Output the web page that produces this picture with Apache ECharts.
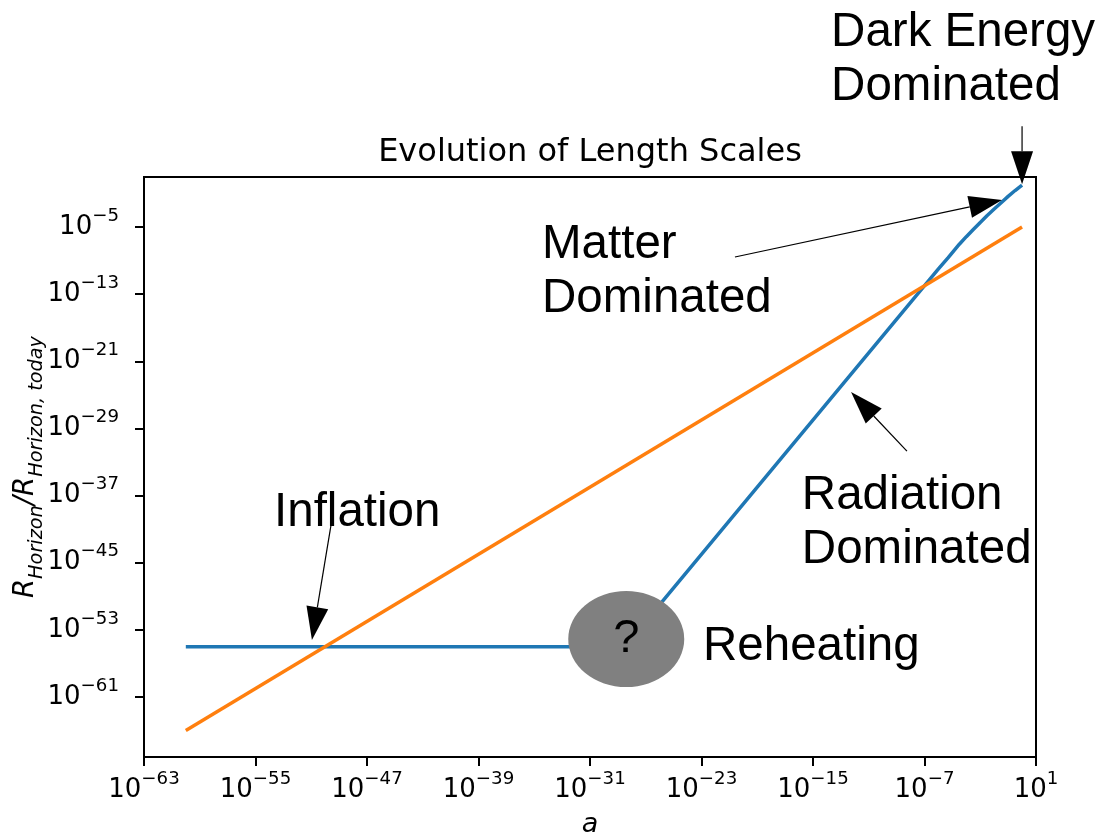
<!DOCTYPE html>
<html>
<head>
<meta charset="utf-8">
<script src="https://cdn.jsdelivr.net/npm/echarts@6/dist/echarts.min.js"></script>
<style>
  html, body { margin: 0; padding: 0; background: #fff; }
  #chart { width: 1101px; height: 838px; }
</style>
</head>
<body>
<div id="chart"></div>
<script>
// Both axes are logarithmic; values are stored as base-10 exponents.
// Horizon radius relative to today, log10 R vs log10 a
const horizonLogA = [-60, -28.5, -6, -5.3, -4.5, -4, -3.5, -3, -2.5, -2, -1.5, -1, -0.5, 0];
const horizonLogR = [-55, -55, -10, -8.65, -7.05, -6.15, -5.3, -4.45, -3.62, -2.85, -2.1, -1.35, -0.65, 0];

// A comoving length scale, growing in proportion to a
const lengthLogA = [-60, 0];
const lengthLogR = [-65, -5];

// Unknown reheating epoch (grey blob)
const reheatLogA = [-28.4];
const reheatLogR = [-54.1];

// Tick exponents
const xTickExps = [-63, -55, -47, -39, -31, -23, -15, -7, 1];
const yTickExps = [-61, -53, -45, -37, -29, -21, -13, -5];

// Axis extents (exponents)
const xRange = [-63, 1];
const yRange = [-68.15, 0.96];

// Annotation labels: text position (top-left), arrow tail and tip, in exponents
const noteTexts = ['Dark Energy\nDominated', 'Matter\nDominated', 'Radiation\nDominated', 'Inflation', 'Reheating'];
const noteTextAt = [[-13.7, 21.35], [-34.44, -3.9], [-15.8, -33.8], [-53.67, -35.82], [-22.89, -51.8]];
const noteTail = [[0, 7], [-20.6, -8.57], [-8.26, -31.7], [-49.58, -40.5], null];
const noteTip = [[0, 0.1], [-1.44, -1.78], [-12.27, -24.66], [-50.95, -54.2], null];

const TICK_FONT = 'DejaVu Sans';
const NOTE_FONT = 'Liberation Sans';

function pow10Label(v) {
  const e = Math.round(v);
  const exp = e < 0 ? '\u2212' + (-e) : String(e);
  return '{b|10}{s|' + exp + '}';
}

const tickRich = {
  b: { fontFamily: TICK_FONT, fontSize: 26, lineHeight: 40, color: '#000' },
  s: { fontFamily: TICK_FONT, fontSize: 18.2, lineHeight: 19.5, verticalAlign: 'top', color: '#000' }
};

const chart = echarts.init(document.getElementById('chart'), null, { renderer: 'canvas' });

const option = {
  animation: false,
  backgroundColor: '#fff',
  grid: {
    left: 144, right: 65, top: 177, bottom: 81,
    show: true, borderColor: '#000', borderWidth: 2, backgroundColor: 'transparent',
    containLabel: false, outerBoundsMode: 'none'
  },
  xAxis: {
    type: 'value',
    min: xRange[0], max: xRange[1],
    name: 'a',
    nameLocation: 'middle',
    nameGap: 52,
    nameMoveOverlap: false,
    nameTextStyle: { fontFamily: TICK_FONT, fontStyle: 'italic', fontSize: 27, lineHeight: 31, color: '#000' },
    axisLine: { show: true, onZero: false, lineStyle: { color: '#000', width: 2 } },
    axisTick: { show: true, inside: false, length: 9, customValues: xTickExps, lineStyle: { color: '#000', width: 2 } },
    axisLabel: { show: true, margin: 13, customValues: xTickExps, formatter: pow10Label, rich: tickRich, hideOverlap: false },
    splitLine: { show: false }
  },
  yAxis: {
    type: 'value',
    min: yRange[0], max: yRange[1],
    name: '{i|R}{s|Horizon}{i|/R}{s|Horizon, today}',
    nameLocation: 'middle',
    nameRotate: 90,
    nameGap: 98,
    nameMoveOverlap: false,
    nameTextStyle: {
      rich: {
        i: { fontFamily: TICK_FONT, fontStyle: 'italic', fontSize: 27.5, lineHeight: 40, color: '#000' },
        s: { fontFamily: TICK_FONT, fontStyle: 'italic', fontSize: 19.3, lineHeight: 24, verticalAlign: 'bottom', color: '#000' }
      }
    },
    axisLine: { show: true, onZero: false, lineStyle: { color: '#000', width: 2 } },
    axisTick: { show: true, inside: false, length: 9, customValues: yTickExps, lineStyle: { color: '#000', width: 2 } },
    axisLabel: { show: true, margin: 25, customValues: yTickExps, formatter: pow10Label, rich: tickRich, hideOverlap: false },
    splitLine: { show: false }
  },
  series: [
    {
      name: 'Horizon',
      type: 'line',
      data: horizonLogA.map((a, i) => [a, horizonLogR[i]]),
      showSymbol: false,
      symbol: 'none',
      lineStyle: { color: '#1f77b4', width: 3.5 },
      z: 2
    },
    {
      name: 'Length scale',
      type: 'line',
      data: lengthLogA.map((a, i) => [a, lengthLogR[i]]),
      showSymbol: false,
      symbol: 'none',
      lineStyle: { color: '#ff7f0e', width: 3.5 },
      z: 3
    },
    {
      name: 'Reheating',
      type: 'scatter',
      data: reheatLogA.map((a, i) => [a, reheatLogR[i]]),
      symbol: 'path://M0,50A50,50,0,1,1,100,50A50,50,0,1,1,0,50Z',
      symbolKeepAspect: false,
      symbolSize: [116, 96],
      itemStyle: { color: '#808080', opacity: 1 },
      label: {
        show: true, position: 'inside', formatter: '?',
        fontFamily: NOTE_FONT, fontSize: 47, color: '#000'
      },
      emphasis: { disabled: true },
      z: 4
    }
  ]
};

chart.setOption(option);

// Title, annotations and arrows placed through the grid's coordinate system
function toPx(p) {
  return chart.convertToPixel({ gridIndex: 0 }, p);
}

function arrow(tailData, tipData) {
  const t0 = toPx(tailData), t1 = toPx(tipData);
  const dx = t1[0] - t0[0], dy = t1[1] - t0[1];
  const len = Math.hypot(dx, dy);
  const ux = dx / len, uy = dy / len;
  const headLen = 33, headHalf = 11;
  const bx = t1[0] - ux * headLen, by = t1[1] - uy * headLen;
  return [
    { type: 'line', z: 20, shape: { x1: t0[0], y1: t0[1], x2: bx, y2: by }, style: { stroke: '#000', lineWidth: 1.2 } },
    { type: 'polygon', z: 20, shape: { points: [[t1[0], t1[1]], [bx - uy * headHalf, by + ux * headHalf], [bx + uy * headHalf, by - ux * headHalf]] }, style: { fill: '#000' } }
  ];
}

const graphics = [];
const titleAt = toPx([(xRange[0] + xRange[1]) / 2, yRange[1]]);
graphics.push({
  type: 'text', z: 20,
  x: titleAt[0], y: titleAt[1] - 43,
  style: { text: 'Evolution of Length Scales', font: '32px "DejaVu Sans"', fill: '#000', align: 'center', verticalAlign: 'top', lineHeight: 38 }
});

noteTexts.forEach((txt, i) => {
  const p = toPx(noteTextAt[i]);
  graphics.push({
    type: 'text', z: 20, x: p[0], y: p[1],
    style: { text: txt, font: '47.5px "' + NOTE_FONT + '"', fill: '#000', align: 'left', verticalAlign: 'top', lineHeight: 54 }
  });
  if (noteTail[i] && noteTip[i]) {
    arrow(noteTail[i], noteTip[i]).forEach(g => graphics.push(g));
  }
});

chart.setOption({ graphic: graphics });
</script>
</body>
</html>
